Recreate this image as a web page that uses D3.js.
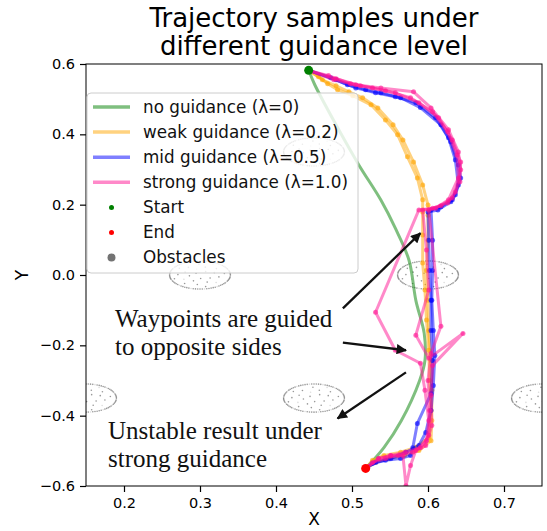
<!DOCTYPE html>
<html>
<head>
<meta charset="utf-8">
<script src="https://cdn.jsdelivr.net/npm/d3@7"></script>
<style>
  body { margin: 0; background: #fff; }
  svg { display: block; }
</style>
</head>
<body>
<div id="chart"></div>
<script>
// Figure size
const width = 547;
const height = 531;
const margin = {top: 64, right: 5, bottom: 45, left: 86};

// Axis ranges and ticks
const xDomain = [0.15, 0.75];
const yDomain = [-0.6, 0.6];
const xTicks = [0.2, 0.3, 0.4, 0.5, 0.6, 0.7];
const yTicks = [-0.6, -0.4, -0.2, 0.0, 0.2, 0.4, 0.6];

// Start / end of every sample
const startPoint = [0.443, 0.582];
const endPoint = [0.518, -0.55];

// Obstacles (circle centres, radius)
const obstacleCenters = [[0.45, 0.35], [0.3, 0.0], [0.6, 0.0], [0.15, -0.35], [0.45, -0.35], [0.75, -0.35]];
const obstacleRadius = 0.04;

// no guidance (lambda = 0)
const noGuidance = [[0.443, 0.582], [0.451, 0.541], [0.479, 0.427], [0.509, 0.313], [0.538, 0.213],
  [0.557, 0.133], [0.575, 0.042], [0.584, -0.072], [0.595, -0.166], [0.596, -0.243], [0.589, -0.300],
  [0.565, -0.414], [0.542, -0.491], [0.518, -0.55]];

// weak guidance (lambda = 0.2)
const weakA = [[0.443, 0.582], [0.456, 0.564], [0.468, 0.544], [0.481, 0.527], [0.501, 0.510], [0.525, 0.484],
  [0.544, 0.441], [0.560, 0.399], [0.573, 0.336], [0.586, 0.276], [0.593, 0.214], [0.593, 0.179],
  [0.593, 0.114], [0.593, 0.034], [0.596, -0.043], [0.598, -0.128], [0.601, -0.214], [0.602, -0.299],
  [0.604, -0.385], [0.601, -0.462], [0.584, -0.490], [0.564, -0.504], [0.542, -0.513], [0.527, -0.527], [0.518, -0.55]];
const weakB = [[0.443, 0.582], [0.461, 0.555], [0.479, 0.538], [0.496, 0.521], [0.514, 0.504], [0.534, 0.475],
  [0.554, 0.427], [0.567, 0.384], [0.581, 0.321], [0.593, 0.256], [0.600, 0.199], [0.600, 0.170],
  [0.600, 0.099], [0.598, 0.013], [0.600, -0.072], [0.601, -0.158], [0.604, -0.243], [0.605, -0.328],
  [0.605, -0.414], [0.604, -0.471], [0.588, -0.499], [0.569, -0.513], [0.548, -0.522], [0.531, -0.533], [0.518, -0.55]];

// mid guidance (lambda = 0.5)
const midA = [[0.443, 0.582], [0.472, 0.561], [0.494, 0.541], [0.518, 0.527], [0.538, 0.518], [0.564, 0.504],
  [0.590, 0.476], [0.617, 0.427], [0.630, 0.379], [0.640, 0.313], [0.643, 0.276], [0.636, 0.228],
  [0.630, 0.208], [0.613, 0.185], [0.600, 0.179], [0.601, 0.099], [0.602, 0.013], [0.604, -0.072],
  [0.604, -0.158], [0.606, -0.243], [0.604, -0.337], [0.586, -0.422], [0.580, -0.491], [0.577, -0.513],
  [0.564, -0.522], [0.544, -0.527], [0.527, -0.536], [0.518, -0.55]];
const midB = [[0.443, 0.582], [0.479, 0.555], [0.505, 0.532], [0.531, 0.518], [0.557, 0.507], [0.584, 0.490],
  [0.610, 0.447], [0.627, 0.390], [0.636, 0.327], [0.640, 0.256], [0.632, 0.214], [0.617, 0.194],
  [0.604, 0.185], [0.606, 0.099], [0.606, 0.013], [0.605, -0.072], [0.607, -0.158], [0.609, -0.229],
  [0.607, -0.314], [0.604, -0.385], [0.597, -0.448], [0.588, -0.485], [0.571, -0.504], [0.551, -0.522],
  [0.531, -0.533], [0.518, -0.55]];

// strong guidance (lambda = 1.0)
const strongA = [[0.443, 0.582], [0.476, 0.555], [0.505, 0.541], [0.538, 0.532], [0.581, 0.521], [0.604, 0.475],
  [0.627, 0.413], [0.640, 0.350], [0.643, 0.299], [0.636, 0.236], [0.626, 0.205], [0.606, 0.190],
  [0.588, 0.185], [0.531, -0.106], [0.557, -0.214], [0.590, -0.251], [0.596, -0.328], [0.601, -0.414],
  [0.598, -0.471], [0.584, -0.499], [0.577, -0.542], [0.571, -0.599], [0.567, -0.513], [0.551, -0.513],
  [0.535, -0.522], [0.518, -0.55]];
const strongB = [[0.443, 0.582], [0.469, 0.567], [0.498, 0.544], [0.527, 0.532], [0.557, 0.518], [0.588, 0.490],
  [0.614, 0.447], [0.632, 0.384], [0.643, 0.321], [0.642, 0.265], [0.632, 0.219], [0.617, 0.197],
  [0.601, 0.185], [0.617, -0.146], [0.604, -0.223], [0.600, -0.300], [0.602, -0.385], [0.601, -0.456],
  [0.590, -0.491], [0.570, -0.504], [0.551, -0.513], [0.535, -0.522], [0.518, -0.55]];
const strongC = [[0.443, 0.582], [0.479, 0.558], [0.511, 0.538], [0.544, 0.524], [0.577, 0.504], [0.606, 0.464],
  [0.626, 0.407], [0.638, 0.341], [0.640, 0.276], [0.627, 0.214], [0.610, 0.190], [0.593, 0.185],
  [0.598, 0.071], [0.601, -0.043], [0.584, -0.171], [0.601, -0.237], [0.646, -0.166], [0.606, -0.257],
  [0.604, -0.342], [0.605, -0.428], [0.597, -0.485], [0.580, -0.504], [0.561, -0.513], [0.544, -0.522],
  [0.527, -0.533], [0.518, -0.55]];

// Groups and legend labels
const groupLabels = ["no guidance (λ=0)", "weak guidance (λ=0.2)", "mid guidance (λ=0.5)", "strong guidance (λ=1.0)"];
const groupColors = ["green", "orange", "blue", "deeppink"];
const groupSamples = [[noGuidance], [weakA, weakB], [midA, midB], [strongA, strongB, strongC]];

// Annotations
const noteLines1 = ["Waypoints are guided", "to opposite sides"];
const noteLines2 = ["Unstable result under", "strong guidance"];
const noteArrows = [
  [[0.488, -0.095], [0.590, 0.119]],
  [[0.488, -0.192], [0.571, -0.214]],
  [[0.571, -0.277], [0.481, -0.408]]
];

const svg = d3.select("#chart").append("svg")
    .attr("width", width)
    .attr("height", height)
    .style("font-family", "'DejaVu Sans', sans-serif");

const x = d3.scaleLinear().domain(xDomain).range([margin.left, width - margin.right]);
const y = d3.scaleLinear().domain(yDomain).range([height - margin.bottom, margin.top]);

svg.append("defs").append("clipPath").attr("id", "plotclip")
  .append("rect")
    .attr("x", margin.left).attr("y", margin.top)
    .attr("width", width - margin.left - margin.right)
    .attr("height", height - margin.top - margin.bottom);

const plot = svg.append("g").attr("clip-path", "url(#plotclip)");

// Obstacles: dotted rings with a few points inside
obstacleCenters.forEach(c => {
    const ring = d3.range(0, 2 * Math.PI, 2 * Math.PI / 84).map(a => [c[0] + obstacleRadius * Math.cos(a), c[1] + obstacleRadius * Math.sin(a)]);
    const inner = d3.range(1, 26).map(k => {
        const r = obstacleRadius * 0.9 * Math.sqrt(k / 26), a = k * 2.39996;
        return [c[0] + r * Math.cos(a), c[1] + r * Math.sin(a)];
    });
    plot.append("g").selectAll("circle")
        .data(ring.concat(inner))
        .enter().append("circle")
        .attr("cx", d => x(d[0]))
        .attr("cy", d => y(d[1]))
        .attr("r", 0.8)
        .attr("fill", "#555")
        .attr("opacity", (d, i) => i % 6 === 5 ? 0.2 : 0.6);
});

// Trajectories
const line = d3.line().x(d => x(d[0])).y(d => y(d[1]));
const smooth = d3.line().x(d => x(d[0])).y(d => y(d[1])).curve(d3.curveCatmullRom);

groupSamples.forEach((samples, gi) => {
    const g = plot.append("g");
    samples.forEach(s => {
        g.append("path")
            .attr("d", gi === 0 ? smooth(s) : line(s))
            .attr("fill", "none")
            .attr("stroke", groupColors[gi])
            .attr("stroke-width", 3)
            .attr("stroke-linejoin", "round")
            .attr("stroke-opacity", 0.5);
        if (gi > 0) {
            g.append("g").selectAll("circle")
                .data(s.slice(1, -1))
                .enter().append("circle")
                .attr("cx", d => x(d[0]))
                .attr("cy", d => y(d[1]))
                .attr("r", 2.5)
                .attr("fill", groupColors[gi])
                .attr("opacity", 0.6);
        }
    });
});

// Start / end markers
plot.append("circle").attr("cx", x(startPoint[0])).attr("cy", y(startPoint[1])).attr("r", 4.5).attr("fill", "green");
plot.append("circle").attr("cx", x(endPoint[0])).attr("cy", y(endPoint[1])).attr("r", 4.5).attr("fill", "red");

// Frame
svg.append("rect")
    .attr("x", margin.left).attr("y", margin.top)
    .attr("width", width - margin.left - margin.right)
    .attr("height", height - margin.top - margin.bottom)
    .attr("fill", "none")
    .attr("stroke", "#000")
    .attr("stroke-width", 1);

// Axes
const xAxis = svg.append("g")
    .attr("transform", `translate(0,${height - margin.bottom})`)
    .call(d3.axisBottom(x).tickValues(xTicks).tickFormat(d3.format(".1f")).tickSize(6).tickSizeOuter(0).tickPadding(6));
const yAxis = svg.append("g")
    .attr("transform", `translate(${margin.left},0)`)
    .call(d3.axisLeft(y).tickValues(yTicks).tickFormat(d3.format(".1f")).tickSize(6).tickSizeOuter(0).tickPadding(5));
[xAxis, yAxis].forEach(a => {
    a.select(".domain").remove();
    a.selectAll("text").style("font-size", "14.5px").style("font-family", "'DejaVu Sans', sans-serif").attr("fill", "#000");
    a.selectAll("line").attr("stroke", "#000").attr("stroke-width", 1.2);
});

svg.append("text")
    .attr("x", (margin.left + width - margin.right) / 2)
    .attr("y", 525)
    .attr("text-anchor", "middle")
    .style("font-size", "17px")
    .text("X");

svg.append("text")
    .attr("transform", `translate(28,${y(0)}) rotate(-90)`)
    .attr("text-anchor", "middle")
    .style("font-size", "17px")
    .text("Y");

// Title
const title = svg.append("text")
    .attr("x", (margin.left + width - margin.right) / 2)
    .attr("text-anchor", "middle")
    .style("font-size", "26px");
title.append("tspan").attr("x", (margin.left + width - margin.right) / 2).attr("y", 27).text("Trajectory samples under");
title.append("tspan").attr("x", (margin.left + width - margin.right) / 2).attr("y", 55).text("different guidance level");

// Arrows and notes
svg.select("defs").append("marker")
    .attr("id", "head")
    .attr("viewBox", "0 0 10 10")
    .attr("refX", 9).attr("refY", 5)
    .attr("markerWidth", 5).attr("markerHeight", 4.5)
    .attr("markerUnits", "strokeWidth")
    .attr("orient", "auto")
  .append("path")
    .attr("d", "M0,0 L10,5 L0,10 z")
    .attr("fill", "#111");

noteArrows.forEach(a => {
    svg.append("line")
        .attr("x1", x(a[0][0])).attr("y1", y(a[0][1]))
        .attr("x2", x(a[1][0])).attr("y2", y(a[1][1]))
        .attr("stroke", "#111")
        .attr("stroke-width", 2.3)
        .attr("marker-end", "url(#head)");
});

const noteFont = "'Liberation Serif', 'DejaVu Serif', serif";
[[noteLines1, 115, 327], [noteLines2, 108, 439]].forEach(([lines, nx, ny]) => {
    lines.forEach((t, i) => {
        svg.append("text")
            .attr("x", nx)
            .attr("y", ny + i * 28)
            .style("font-family", noteFont)
            .style("font-size", "25px")
            .attr("fill", "#111")
            .text(t);
    });
});

// Legend
const legend = svg.append("g").attr("transform", "translate(87,93)");
legend.append("rect")
    .attr("width", 271).attr("height", 180)
    .attr("rx", 4)
    .attr("fill", "#fff").attr("fill-opacity", 0.8)
    .attr("stroke", "#ccc").attr("stroke-width", 1);

const rowY = i => 14 + i * 25.1;
groupLabels.forEach((lab, i) => {
    legend.append("line")
        .attr("x1", 6).attr("x2", 43)
        .attr("y1", rowY(i)).attr("y2", rowY(i))
        .attr("stroke", groupColors[i]).attr("stroke-width", 3.5).attr("stroke-opacity", 0.5);
});
const markerItems = [["Start", "green", 2.5, 1], ["End", "red", 2.5, 1], ["Obstacles", "#444", 4, 0.75]];
markerItems.forEach((m, j) => {
    legend.append("circle")
        .attr("cx", 24.5).attr("cy", rowY(4 + j))
        .attr("r", m[2]).attr("fill", m[1]).attr("opacity", m[3]);
});
groupLabels.concat(markerItems.map(m => m[0])).forEach((lab, i) => {
    legend.append("text")
        .attr("x", 56).attr("y", rowY(i))
        .attr("dy", "0.35em")
        .style("font-size", "16.8px")
        .attr("fill", "#111")
        .text(lab);
});
</script>
</body>
</html>
